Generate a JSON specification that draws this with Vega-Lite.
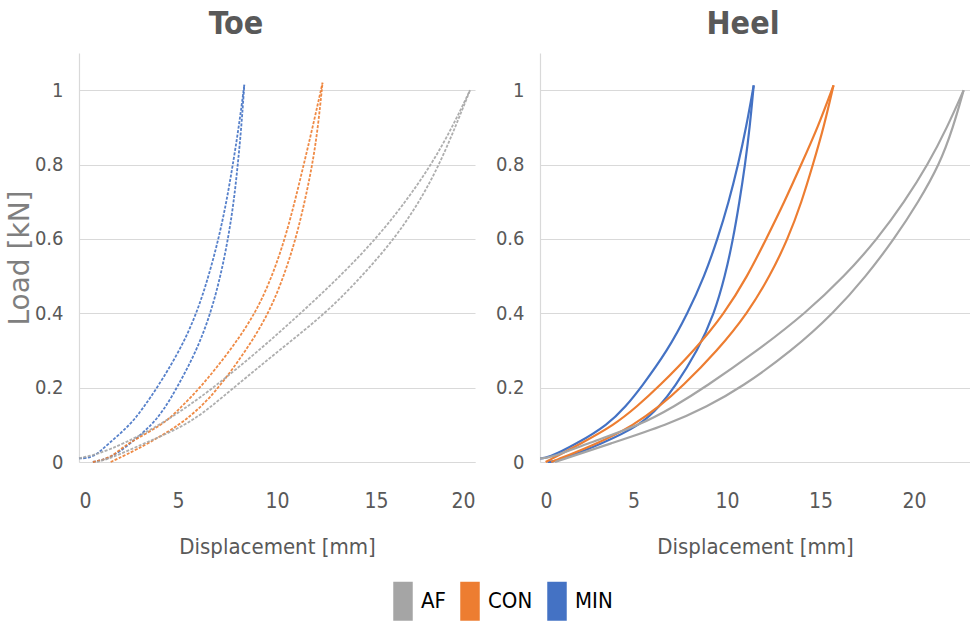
{
  "$schema": "https://vega.github.io/schema/vega-lite/v6.json",
  "background": "white",
  "padding": {"left": 6, "top": 8, "right": 0, "bottom": 0},
  "bounds": "flush",
  "spacing": 65,
  "datasets": {
    "loops": [
      {"p":"Toe","s":"MIN","b":"up","x":0,"y":0.01},{"p":"Toe","s":"MIN","b":"up","x":0.7,"y":0.01},{"p":"Toe","s":"MIN","b":"up","x":1.5,"y":0.05},{"p":"Toe","s":"MIN","b":"up","x":2.6,"y":0.1},{"p":"Toe","s":"MIN","b":"up","x":3.3,"y":0.15},{"p":"Toe","s":"MIN","b":"up","x":3.95,"y":0.2},{"p":"Toe","s":"MIN","b":"up","x":5.1,"y":0.3},{"p":"Toe","s":"MIN","b":"up","x":5.95,"y":0.4},{"p":"Toe","s":"MIN","b":"up","x":6.55,"y":0.5},{"p":"Toe","s":"MIN","b":"up","x":7.05,"y":0.6},{"p":"Toe","s":"MIN","b":"up","x":7.45,"y":0.7},{"p":"Toe","s":"MIN","b":"up","x":7.77,"y":0.8},{"p":"Toe","s":"MIN","b":"up","x":8.07,"y":0.9},{"p":"Toe","s":"MIN","b":"up","x":8.35,"y":1.015},
      {"p":"Toe","s":"MIN","b":"down","x":0.7,"y":0.0},{"p":"Toe","s":"MIN","b":"down","x":1.6,"y":0.01},{"p":"Toe","s":"MIN","b":"down","x":2.6,"y":0.05},{"p":"Toe","s":"MIN","b":"down","x":3.7,"y":0.1},{"p":"Toe","s":"MIN","b":"down","x":4.4,"y":0.15},{"p":"Toe","s":"MIN","b":"down","x":4.95,"y":0.2},{"p":"Toe","s":"MIN","b":"down","x":5.95,"y":0.3},{"p":"Toe","s":"MIN","b":"down","x":6.65,"y":0.4},{"p":"Toe","s":"MIN","b":"down","x":7.15,"y":0.5},{"p":"Toe","s":"MIN","b":"down","x":7.53,"y":0.6},{"p":"Toe","s":"MIN","b":"down","x":7.82,"y":0.7},{"p":"Toe","s":"MIN","b":"down","x":8.02,"y":0.8},{"p":"Toe","s":"MIN","b":"down","x":8.2,"y":0.9},{"p":"Toe","s":"MIN","b":"down","x":8.35,"y":1.015},
      {"p":"Toe","s":"CON","b":"up","x":0.7,"y":0.0},{"p":"Toe","s":"CON","b":"up","x":1.6,"y":0.01},{"p":"Toe","s":"CON","b":"up","x":2.4,"y":0.05},{"p":"Toe","s":"CON","b":"up","x":4.27,"y":0.1},{"p":"Toe","s":"CON","b":"up","x":5.2,"y":0.15},{"p":"Toe","s":"CON","b":"up","x":6.13,"y":0.2},{"p":"Toe","s":"CON","b":"up","x":7.65,"y":0.3},{"p":"Toe","s":"CON","b":"up","x":8.92,"y":0.4},{"p":"Toe","s":"CON","b":"up","x":9.76,"y":0.5},{"p":"Toe","s":"CON","b":"up","x":10.4,"y":0.6},{"p":"Toe","s":"CON","b":"up","x":10.9,"y":0.7},{"p":"Toe","s":"CON","b":"up","x":11.35,"y":0.8},{"p":"Toe","s":"CON","b":"up","x":11.8,"y":0.9},{"p":"Toe","s":"CON","b":"up","x":12.3,"y":1.02},
      {"p":"Toe","s":"CON","b":"down","x":1.6,"y":0.0},{"p":"Toe","s":"CON","b":"down","x":2.4,"y":0.02},{"p":"Toe","s":"CON","b":"down","x":3.5,"y":0.05},{"p":"Toe","s":"CON","b":"down","x":5.1,"y":0.1},{"p":"Toe","s":"CON","b":"down","x":6.2,"y":0.15},{"p":"Toe","s":"CON","b":"down","x":7.06,"y":0.2},{"p":"Toe","s":"CON","b":"down","x":8.45,"y":0.3},{"p":"Toe","s":"CON","b":"down","x":9.59,"y":0.4},{"p":"Toe","s":"CON","b":"down","x":10.35,"y":0.5},{"p":"Toe","s":"CON","b":"down","x":10.95,"y":0.6},{"p":"Toe","s":"CON","b":"down","x":11.4,"y":0.7},{"p":"Toe","s":"CON","b":"down","x":11.79,"y":0.8},{"p":"Toe","s":"CON","b":"down","x":12.07,"y":0.9},{"p":"Toe","s":"CON","b":"down","x":12.3,"y":1.02},
      {"p":"Toe","s":"AF","b":"up","x":0,"y":0.01},{"p":"Toe","s":"AF","b":"up","x":0.9,"y":0.02},{"p":"Toe","s":"AF","b":"up","x":2.3,"y":0.05},{"p":"Toe","s":"AF","b":"up","x":4.1,"y":0.1},{"p":"Toe","s":"AF","b":"up","x":5.5,"y":0.15},{"p":"Toe","s":"AF","b":"up","x":6.8,"y":0.2},{"p":"Toe","s":"AF","b":"up","x":9.1,"y":0.3},{"p":"Toe","s":"AF","b":"up","x":11.2,"y":0.4},{"p":"Toe","s":"AF","b":"up","x":13.2,"y":0.5},{"p":"Toe","s":"AF","b":"up","x":15.0,"y":0.6},{"p":"Toe","s":"AF","b":"up","x":16.5,"y":0.7},{"p":"Toe","s":"AF","b":"up","x":17.8,"y":0.8},{"p":"Toe","s":"AF","b":"up","x":18.85,"y":0.9},{"p":"Toe","s":"AF","b":"up","x":19.75,"y":1.0},
      {"p":"Toe","s":"AF","b":"down","x":0.9,"y":0.0},{"p":"Toe","s":"AF","b":"down","x":1.6,"y":0.01},{"p":"Toe","s":"AF","b":"down","x":3.3,"y":0.05},{"p":"Toe","s":"AF","b":"down","x":5.46,"y":0.1},{"p":"Toe","s":"AF","b":"down","x":6.7,"y":0.15},{"p":"Toe","s":"AF","b":"down","x":7.82,"y":0.2},{"p":"Toe","s":"AF","b":"down","x":10.1,"y":0.3},{"p":"Toe","s":"AF","b":"down","x":12.47,"y":0.4},{"p":"Toe","s":"AF","b":"down","x":14.3,"y":0.5},{"p":"Toe","s":"AF","b":"down","x":15.93,"y":0.6},{"p":"Toe","s":"AF","b":"down","x":17.2,"y":0.7},{"p":"Toe","s":"AF","b":"down","x":18.2,"y":0.8},{"p":"Toe","s":"AF","b":"down","x":19.0,"y":0.9},{"p":"Toe","s":"AF","b":"down","x":19.75,"y":1.0},
      {"p":"Heel","s":"MIN","b":"up","x":0,"y":0.01},{"p":"Heel","s":"MIN","b":"up","x":0.4,"y":0.01},{"p":"Heel","s":"MIN","b":"up","x":2.0,"y":0.05},{"p":"Heel","s":"MIN","b":"up","x":3.62,"y":0.1},{"p":"Heel","s":"MIN","b":"up","x":4.6,"y":0.15},{"p":"Heel","s":"MIN","b":"up","x":5.4,"y":0.2},{"p":"Heel","s":"MIN","b":"up","x":6.83,"y":0.3},{"p":"Heel","s":"MIN","b":"up","x":7.9,"y":0.4},{"p":"Heel","s":"MIN","b":"up","x":8.8,"y":0.5},{"p":"Heel","s":"MIN","b":"up","x":9.5,"y":0.6},{"p":"Heel","s":"MIN","b":"up","x":10.1,"y":0.7},{"p":"Heel","s":"MIN","b":"up","x":10.6,"y":0.8},{"p":"Heel","s":"MIN","b":"up","x":11.03,"y":0.9},{"p":"Heel","s":"MIN","b":"up","x":11.43,"y":1.013},
      {"p":"Heel","s":"MIN","b":"down","x":0.4,"y":0.0},{"p":"Heel","s":"MIN","b":"down","x":0.8,"y":0.0},{"p":"Heel","s":"MIN","b":"down","x":3.35,"y":0.05},{"p":"Heel","s":"MIN","b":"down","x":5.4,"y":0.1},{"p":"Heel","s":"MIN","b":"down","x":6.4,"y":0.15},{"p":"Heel","s":"MIN","b":"down","x":7.18,"y":0.2},{"p":"Heel","s":"MIN","b":"down","x":8.44,"y":0.3},{"p":"Heel","s":"MIN","b":"down","x":9.33,"y":0.4},{"p":"Heel","s":"MIN","b":"down","x":9.9,"y":0.5},{"p":"Heel","s":"MIN","b":"down","x":10.33,"y":0.6},{"p":"Heel","s":"MIN","b":"down","x":10.67,"y":0.7},{"p":"Heel","s":"MIN","b":"down","x":10.97,"y":0.8},{"p":"Heel","s":"MIN","b":"down","x":11.22,"y":0.9},{"p":"Heel","s":"MIN","b":"down","x":11.43,"y":1.013},
      {"p":"Heel","s":"CON","b":"up","x":0.3,"y":0.0},{"p":"Heel","s":"CON","b":"up","x":2.2,"y":0.05},{"p":"Heel","s":"CON","b":"up","x":3.98,"y":0.1},{"p":"Heel","s":"CON","b":"up","x":5.2,"y":0.15},{"p":"Heel","s":"CON","b":"up","x":6.3,"y":0.2},{"p":"Heel","s":"CON","b":"up","x":8.26,"y":0.3},{"p":"Heel","s":"CON","b":"up","x":9.87,"y":0.4},{"p":"Heel","s":"CON","b":"up","x":11.1,"y":0.5},{"p":"Heel","s":"CON","b":"up","x":12.1,"y":0.6},{"p":"Heel","s":"CON","b":"up","x":13.08,"y":0.7},{"p":"Heel","s":"CON","b":"up","x":13.97,"y":0.8},{"p":"Heel","s":"CON","b":"up","x":14.86,"y":0.9},{"p":"Heel","s":"CON","b":"up","x":15.7,"y":1.013},
      {"p":"Heel","s":"CON","b":"down","x":0.6,"y":0.0},{"p":"Heel","s":"CON","b":"down","x":3.1,"y":0.05},{"p":"Heel","s":"CON","b":"down","x":5.05,"y":0.1},{"p":"Heel","s":"CON","b":"down","x":6.4,"y":0.15},{"p":"Heel","s":"CON","b":"down","x":7.55,"y":0.2},{"p":"Heel","s":"CON","b":"down","x":9.5,"y":0.3},{"p":"Heel","s":"CON","b":"down","x":11.1,"y":0.4},{"p":"Heel","s":"CON","b":"down","x":12.3,"y":0.5},{"p":"Heel","s":"CON","b":"down","x":13.26,"y":0.6},{"p":"Heel","s":"CON","b":"down","x":14.0,"y":0.7},{"p":"Heel","s":"CON","b":"down","x":14.6,"y":0.8},{"p":"Heel","s":"CON","b":"down","x":15.18,"y":0.9},{"p":"Heel","s":"CON","b":"down","x":15.7,"y":1.013},
      {"p":"Heel","s":"AF","b":"up","x":0,"y":0.01},{"p":"Heel","s":"AF","b":"up","x":0.5,"y":0.01},{"p":"Heel","s":"AF","b":"up","x":2.55,"y":0.05},{"p":"Heel","s":"AF","b":"up","x":5.4,"y":0.1},{"p":"Heel","s":"AF","b":"up","x":7.2,"y":0.15},{"p":"Heel","s":"AF","b":"up","x":8.8,"y":0.2},{"p":"Heel","s":"AF","b":"up","x":11.65,"y":0.3},{"p":"Heel","s":"AF","b":"up","x":14.2,"y":0.4},{"p":"Heel","s":"AF","b":"up","x":16.3,"y":0.5},{"p":"Heel","s":"AF","b":"up","x":18.05,"y":0.6},{"p":"Heel","s":"AF","b":"up","x":19.5,"y":0.7},{"p":"Heel","s":"AF","b":"up","x":20.75,"y":0.8},{"p":"Heel","s":"AF","b":"up","x":21.78,"y":0.9},{"p":"Heel","s":"AF","b":"up","x":22.66,"y":1.0},
      {"p":"Heel","s":"AF","b":"down","x":0.8,"y":0.0},{"p":"Heel","s":"AF","b":"down","x":3.8,"y":0.05},{"p":"Heel","s":"AF","b":"down","x":6.83,"y":0.1},{"p":"Heel","s":"AF","b":"down","x":8.97,"y":0.15},{"p":"Heel","s":"AF","b":"down","x":10.76,"y":0.2},{"p":"Heel","s":"AF","b":"down","x":13.5,"y":0.3},{"p":"Heel","s":"AF","b":"down","x":15.7,"y":0.4},{"p":"Heel","s":"AF","b":"down","x":17.45,"y":0.5},{"p":"Heel","s":"AF","b":"down","x":18.95,"y":0.6},{"p":"Heel","s":"AF","b":"down","x":20.25,"y":0.7},{"p":"Heel","s":"AF","b":"down","x":21.37,"y":0.8},{"p":"Heel","s":"AF","b":"down","x":22.1,"y":0.9},{"p":"Heel","s":"AF","b":"down","x":22.66,"y":1.0}
    ]
  },
  "hconcat": [
    {
      "width": 396,
      "height": 409,
      "title": {"text": "Toe", "dx": -41},
      "data": {"name": "loops"},
      "transform": [{"filter": "datum.p === 'Toe'"}],
      "mark": {"type": "line", "interpolate": "basis", "strokeWidth": 1.8, "strokeDash": [3, 1.5], "opacity": 0.9},
      "encoding": {
        "x": {"field": "x", "type": "quantitative", "scale": {"domain": [0, 20], "nice": false},
              "axis": {"values": [0, 5, 10, 15, 20], "title": "Displacement [mm]"}},
        "y": {"field": "y", "type": "quantitative", "scale": {"domain": [0, 1.1], "nice": false},
              "axis": {"values": [0, 0.2, 0.4, 0.6, 0.8, 1], "format": "~g", "title": "Load [kN]"}},
        "color": {"field": "s", "type": "nominal",
                  "scale": {"domain": ["AF", "CON", "MIN"], "range": ["#A5A5A5", "#ED7D31", "#4472C4"]},
                  "legend": {"title": null, "orient": "none", "direction": "horizontal", "legendX": 313, "legendY": 537,
                             "encode": {"symbols": {"update": {"fill": {"scale": "color", "field": "value"}, "stroke": {"value": "transparent"}, "opacity": {"value": 1}}}}}},
        "detail": {"field": "b", "type": "nominal"}
      }
    },
    {
      "width": 430,
      "height": 409,
      "title": {"text": "Heel", "dx": -12},
      "data": {"name": "loops"},
      "transform": [{"filter": "datum.p === 'Heel'"}],
      "mark": {"type": "line", "interpolate": "basis", "strokeWidth": 2.2},
      "encoding": {
        "x": {"field": "x", "type": "quantitative", "scale": {"domain": [0, 23], "nice": false},
              "axis": {"values": [0, 5, 10, 15, 20], "title": "Displacement [mm]"}},
        "y": {"field": "y", "type": "quantitative", "scale": {"domain": [0, 1.1], "nice": false},
              "axis": {"values": [0, 0.2, 0.4, 0.6, 0.8, 1], "format": "~g", "title": null}},
        "color": {"field": "s", "type": "nominal",
                  "scale": {"domain": ["AF", "CON", "MIN"], "range": ["#A5A5A5", "#ED7D31", "#4472C4"]}},
        "detail": {"field": "b", "type": "nominal"}
      }
    }
  ],
  "config": {
    "view": {"stroke": null},
    "font": "DejaVu Sans Condensed, Liberation Sans, sans-serif",
    "title": {"font": "DejaVu Sans Condensed, Liberation Sans, sans-serif", "fontSize": 32, "fontWeight": "bold", "color": "#595959", "anchor": "middle", "offset": 12},
    "axis": {"labelFont": "DejaVu Sans Condensed, Liberation Sans, sans-serif", "labelColor": "#595959", "titleColor": "#595959", "ticks": false,
             "domainColor": "#d9d9d9", "gridColor": "#d9d9d9", "gridWidth": 1.2, "domainWidth": 1.2},
    "axisX": {"grid": false, "labelFontSize": 21, "labelPadding": 28, "titleFont": "DejaVu Sans Condensed, Liberation Sans, sans-serif", "titleFontSize": 22, "titleFontWeight": "normal", "titlePadding": 25},
    "axisY": {"grid": true, "labelFontSize": 20, "labelPadding": 16, "titleFont": "DejaVu Sans", "titleFontSize": 28, "titleFontWeight": "normal", "titleColor": "#7f7f7f", "titlePadding": 0},
    "legend": {"labelFont": "DejaVu Sans Condensed, Liberation Sans, sans-serif", "labelFontSize": 22, "labelColor": "#000000",
               "symbolType": "M-1,-2H1V2H-1Z", "symbolSize": 380, "symbolStrokeWidth": 0, "symbolOpacity": 1,
               "labelOffset": 7, "columnPadding": 13}
  }
}
